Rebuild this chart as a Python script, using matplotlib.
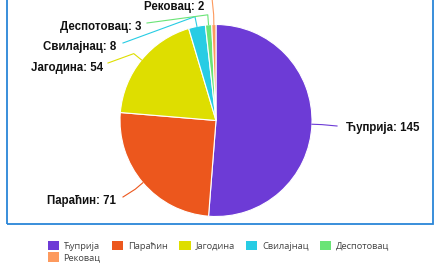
import numpy as np
import matplotlib.pyplot as plt
from matplotlib.patches import Rectangle, Patch

# Подаци
opstine = ['Ћуприја', 'Параћин', 'Јагодина', 'Свилајнац', 'Деспотовац', 'Рековац']
vrednosti = [145, 71, 54, 8, 3, 2]
boje = ['#6d3bd6', '#ec571d', '#dede00', '#27cce4', '#6ae477', '#fd9a5e']

# krajevi linija za natpise (px, y od vrha)
kraj_linije = [(337, 126), (123, 197), (108, 63), (123, 43), (147, 23), (212, -2)]
poz_teksta = [(346, 128), (116, 201), (103, 68), (116, 47), (142, 27), (204, 7)]

W, H = 440, 264
cx, cy, R = 216, 120.5, 96

fig = plt.figure(figsize=(4.4, 2.64), dpi=100)
ax = fig.add_axes([0, 0, 1, 1])

wedges, _ = ax.pie(vrednosti, colors=boje, startangle=90, counterclock=False,
                   center=(cx, H - cy), radius=R, frame=True,
                   wedgeprops=dict(edgecolor='white', linewidth=0.8))
ax.set_xlim(0, W)
ax.set_ylim(0, H)
ax.set_aspect('equal')
ax.axis('off')

# okvir
ax.add_patch(Rectangle((7, H - 224), 426, 240, fill=False, edgecolor='#2a86d8',
                       linewidth=1.3, zorder=0))

for w, ime, v, boja, kl, pt in zip(wedges, opstine, vrednosti, boje, kraj_linije, poz_teksta):
    ug = np.deg2rad((w.theta1 + w.theta2) / 2)
    x0, y0 = cx + R * np.cos(ug), (H - cy) + R * np.sin(ug)
    x1, y1 = cx + (R + 10) * np.cos(ug), (H - cy) + (R + 10) * np.sin(ug)
    ax.plot([x0, x1, kl[0]], [y0, y1, H - kl[1]], color=boja, linewidth=0.8, zorder=1)
    ha = 'left' if pt[0] > cx else 'right'
    ax.text(pt[0], H - pt[1], f'{ime}: {v}', ha=ha, va='center', fontsize=8.3,
            fontweight='bold', family='Liberation Sans', color='#111111')

# legenda: matplotlib puni kolone, pa redosled prilagodjavamo
red = [0, 5, 1, 2, 3, 4]
handles = [Patch(facecolor=boje[i], edgecolor='none') for i in red]
leg = fig.legend(handles, [opstine[i] for i in red], loc='upper left',
                 bbox_to_anchor=(43 / W, 1 - 236 / H),
                 ncol=5, frameon=False, handlelength=1.2, handleheight=1.2,
                 handletextpad=0.5, columnspacing=1.25, labelspacing=0.2, borderpad=0,
                 prop={'family': 'Open Sans', 'size': 6.7})
for t in leg.get_texts():
    t.set_color('#444444')

fig.savefig('out.png', dpi=100)
